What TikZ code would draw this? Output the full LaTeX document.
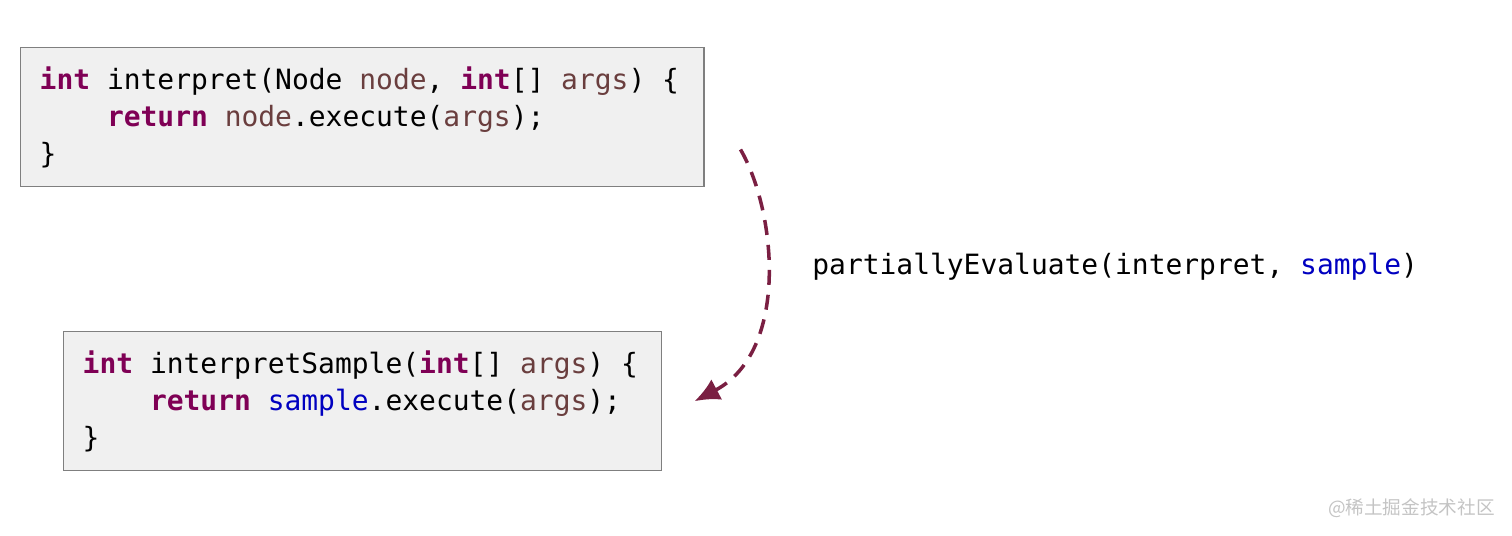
\documentclass[tikz,border=0pt]{standalone}
\usepackage{fontspec}
\setmonofont{DejaVu Sans Mono}
\newfontfamily\cjkfont{Noto Sans CJK SC}
\usepackage{xcolor}
\definecolor{pekeyword}{HTML}{7F0055}
\definecolor{pevar}{HTML}{6A3E3E}
\definecolor{pefield}{HTML}{0000C0}
\definecolor{pearrow}{HTML}{7A1F42}
\definecolor{pebox}{HTML}{F0F0F0}
\definecolor{peborder}{HTML}{7F7F7F}
\definecolor{pemark}{HTML}{C4C4C4}
\usepackage{tikz}
\usetikzlibrary{arrows.meta,positioning,calc}

\newcommand{\kw}[1]{\textbf{\color{pekeyword}#1}}
\newcommand{\vr}[1]{{\color{pevar}#1}}
\newcommand{\fd}[1]{{\color{pefield}#1}}
\newcommand{\ind}{\hphantom{0000}}
\newcommand{\monosp}{\spaceskip=0pt\xspaceskip=0pt\relax}

\tikzset{
  codebox/.style={draw=peborder,fill=pebox,line width=0.85pt,
    inner xsep=0.38cm,inner ysep=0pt,minimum height=2.78cm,
    align=left,font=\fontsize{15.9}{21}\selectfont\ttfamily,
    execute at begin node=\monosp},
  evalarrow/.style={draw=pearrow,line width=2pt,
    dash pattern=on 0.3cm off 0.2cm,-{Latex[length=0.5cm,width=0.46cm]}},
}

\begin{document}
\begin{tikzpicture}
  \useasboundingbox (0,0) rectangle (30.24,10.72);

  %% Code before and after
  \node[codebox,text width=12.9cm,anchor=north west] (interp) at (0.40,9.78)
    {\kw{int} interpret(Node \vr{node}, \kw{int}[] \vr{args}) \{\\
     \ind\kw{return} \vr{node}.execute(\vr{args});\\
     \}};
  \node[codebox,text width=11.2cm,anchor=north west] (sampled) at (1.26,4.10)
    {\kw{int} interpretSample(\kw{int}[] \vr{args}) \{\\
     \ind\kw{return} \fd{sample}.execute(\vr{args});\\
     \}};

  %% Arrow
  \coordinate (arrstart) at ($(interp.south east)+(0.72,0.76)$);
  \coordinate[right=0.64cm of sampled.east] (arrend);
  \draw[evalarrow] (arrstart) .. controls +(0.72,-1.24) and +(1.9,1.0) .. (arrend);

  \node[anchor=west,inner sep=0pt,font=\fontsize{15.9}{21}\selectfont\ttfamily]
    (peval) at (16.24,5.38) {partiallyEvaluate(interpret, \fd{sample})};

  \node[anchor=east,inner sep=0pt,font=\fontsize{10.6}{13}\selectfont\cjkfont,
    text=pemark] (wmark) at (29.9,0.56) {@稀土掘金技术社区};
\end{tikzpicture}
\end{document}
